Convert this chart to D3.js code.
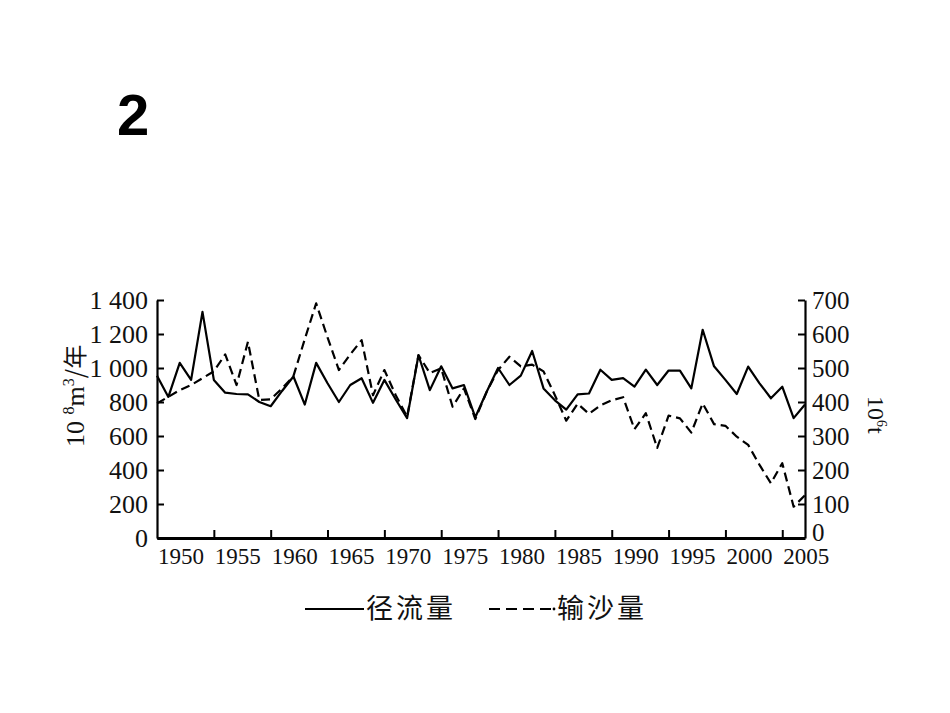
<!DOCTYPE html>
<html><head><meta charset="utf-8">
<script src="https://cdn.jsdelivr.net/npm/d3@7"></script>
<style>
html,body{margin:0;padding:0;background:#fff;}
svg{display:block;}
</style></head>
<body>
<svg id="chart" width="950" height="713"></svg>
<script>
// ---- data ----
const years = d3.range(1950, 2008);
const runoff = [955, 830, 1030, 930, 1330, 930, 855, 847, 845, 800,
                775, 865, 950, 785, 1030, 910, 800, 900, 940, 795,
                930, 815, 705, 1075, 870, 1010, 880, 900, 710, 860,
                1000, 900, 955, 1100, 880, 810, 755, 845, 850, 990,
                930, 940, 890, 990, 900, 985, 985, 880, 1225, 1010,
                930, 847, 1008, 910, 822, 890, 705, 785];
const sediment = [396, 415, 435, 450, 470, 490, 540, 450, 577, 406,
                  408, 440, 476, 585, 690, 590, 494, 540, 582, 420,
                  494, 420, 357, 538, 485, 499, 386, 440, 350, 430,
                  494, 533, 505, 510, 490, 420, 345, 395, 365, 390,
                  405, 414, 320, 367, 265, 360, 352, 310, 396, 335,
                  330, 298, 274, 215, 161, 220, 92, 126];
const leftTicks = [0, 200, 400, 600, 800, 1000, 1200, 1400];
const leftTickLabels = ["0", "200", "400", "600", "800", "1 000", "1 200", "1 400"];
const rightTicks = [0, 100, 200, 300, 400, 500, 600, 700];
const xTickYears = [1955, 1960, 1965, 1970, 1975, 1980, 1985, 1990, 1995, 2000, 2005];
const xLabelYears = [1950, 1955, 1960, 1965, 1970, 1975, 1980, 1985, 1990, 1995, 2000, 2005];
const seriesNames = ["径流量", "输沙量"];

// ---- layout ----
const svg = d3.select("#chart");
const L = 157, R = 805, T = 300, B = 538;
const serif = "'Liberation Serif','Times New Roman',serif";
const cjk = "'Noto Sans CJK SC','Noto Sans',sans-serif";

const x = d3.scaleLinear().domain([1950, 2007]).range([L, R]);
const yL = d3.scaleLinear().domain([0, 1400]).range([B, T]);
const yR = d3.scaleLinear().domain([0, 700]).range([B, T]);

// big number
svg.append("text").attr("x", 117).attr("y", 135)
  .attr("font-family", "'Liberation Sans',Arial,sans-serif")
  .attr("font-weight", "bold").attr("font-size", 58).attr("fill", "#000").text("2");

// left axis
const gL = svg.append("g").attr("transform", `translate(${L},0)`)
  .call(d3.axisLeft(yL).tickValues(leftTicks).tickSize(-7).tickSizeOuter(0).tickPadding(9)
    .tickFormat((d, i) => leftTickLabels[i]));
gL.select(".domain").attr("stroke", "#000").attr("stroke-width", 2.2);
gL.selectAll(".tick line").attr("stroke", "#000").attr("stroke-width", 2);
gL.selectAll(".tick text").attr("font-family", serif).attr("font-size", 26).attr("fill", "#111");

// right axis
const gR = svg.append("g").attr("transform", `translate(${R},0)`)
  .call(d3.axisRight(yR).tickValues(rightTicks).tickSize(-7).tickSizeOuter(0).tickPadding(7));
gR.select(".domain").attr("stroke", "#000").attr("stroke-width", 2.2);
gR.selectAll(".tick line").attr("stroke", "#000").attr("stroke-width", 2);
gR.selectAll(".tick text").attr("font-family", serif).attr("font-size", 25).attr("fill", "#111")
  .attr("y", d => d === 0 ? -6 : 0);

// bottom axis
const gB = svg.append("g").attr("transform", `translate(0,${B})`)
  .call(d3.axisBottom(x).tickValues(xTickYears).tickSize(-8).tickSizeOuter(0).tickFormat(""));
gB.select(".domain").attr("stroke", "#000").attr("stroke-width", 3);
gB.selectAll(".tick line").attr("stroke", "#000").attr("stroke-width", 2);
svg.append("g").selectAll("text").data(xLabelYears).join("text")
  .attr("x", d => x(d) + 1).attr("y", 564)
  .attr("font-family", serif).attr("font-size", 23).attr("fill", "#111")
  .attr("text-anchor", "start").text(d => d);

// axis titles
const lt = svg.append("text").attr("transform", "translate(84,447) rotate(-90)")
  .attr("font-family", serif).attr("font-size", 26).attr("fill", "#111");
lt.append("tspan").text("10 ");
lt.append("tspan").attr("font-size", 16).attr("dy", -10).text("8");
lt.append("tspan").attr("dy", 10).text("m");
lt.append("tspan").attr("font-size", 16).attr("dy", -10).text("3");
lt.append("tspan").attr("dy", 10).attr("font-family", cjk).attr("font-size", 24).text("/年");

const rt = svg.append("text").attr("transform", "translate(868,396) rotate(90)")
  .attr("font-family", serif).attr("font-size", 24).attr("fill", "#111");
rt.append("tspan").text("10");
rt.append("tspan").attr("font-size", 14).attr("dy", -9).text("6");
rt.append("tspan").attr("dy", 9).text("t");

// lines
const lineL = d3.line().x((d, i) => x(years[i])).y(d => yL(d));
const lineR = d3.line().x((d, i) => x(years[i])).y(d => yR(d));
svg.append("path").datum(sediment).attr("d", lineR)
  .attr("fill", "none").attr("stroke", "#000").attr("stroke-width", 2.2)
  .attr("stroke-dasharray", "9,5").attr("stroke-linejoin", "round");
svg.append("path").datum(runoff).attr("d", lineL)
  .attr("fill", "none").attr("stroke", "#000").attr("stroke-width", 2.2)
  .attr("stroke-linejoin", "round");

// legend
svg.append("line").attr("x1", 305).attr("x2", 364).attr("y1", 609).attr("y2", 609)
  .attr("stroke", "#000").attr("stroke-width", 2.2);
svg.append("text").attr("x", 366).attr("y", 618).attr("font-family", cjk)
  .attr("font-size", 27).attr("letter-spacing", 3).attr("fill", "#111").text(seriesNames[0]);
svg.append("line").attr("x1", 489).attr("x2", 551).attr("y1", 609).attr("y2", 609)
  .attr("stroke", "#000").attr("stroke-width", 2.2).attr("stroke-dasharray", "11,6");
svg.append("circle").attr("cx", 554).attr("cy", 609).attr("r", 1.4).attr("fill", "#000");
svg.append("text").attr("x", 557).attr("y", 618).attr("font-family", cjk)
  .attr("font-size", 27).attr("letter-spacing", 3).attr("fill", "#111").text(seriesNames[1]);
</script>
</body></html>
